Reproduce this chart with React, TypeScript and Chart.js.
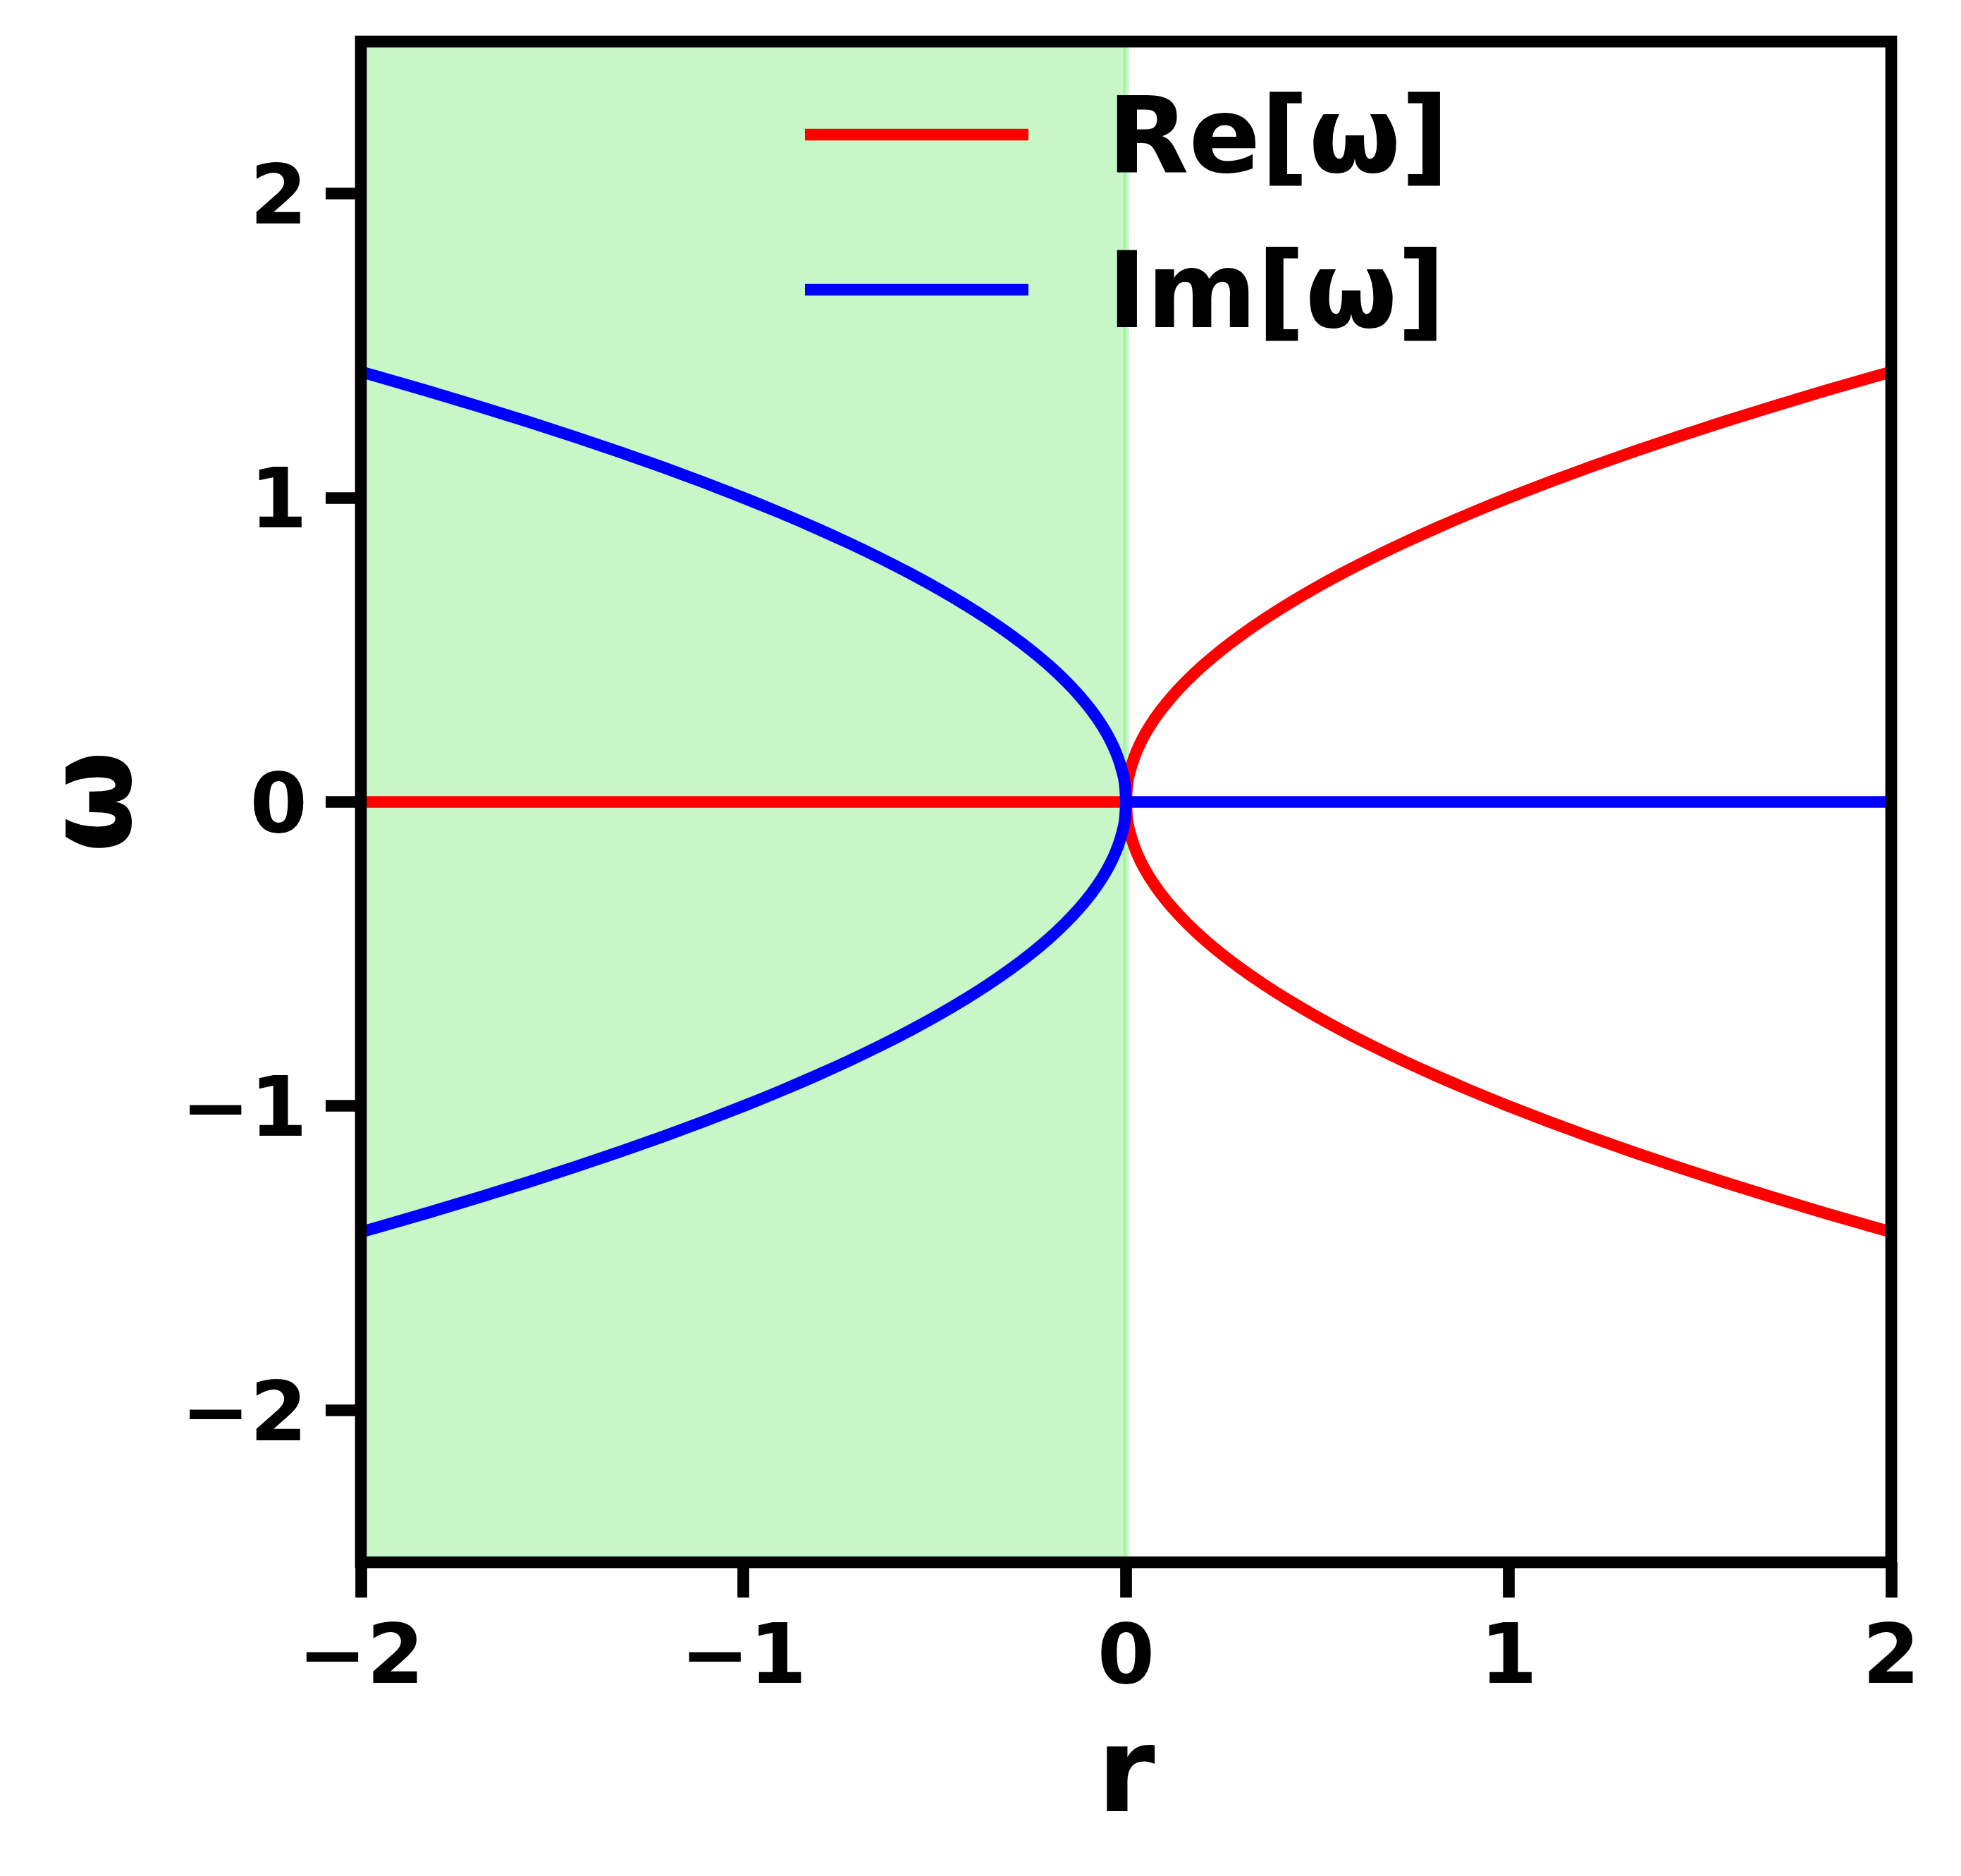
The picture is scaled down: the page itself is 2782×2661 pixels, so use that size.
import React, { useEffect, useRef } from 'react';
import { Chart, registerables } from 'chart.js';

Chart.register(...registerables);

const CANVAS_W = 2782;
const CANVAS_H = 2661;

// r values (right half, r >= 0) and the magnitude of omega
const rRight = [0, 0.0025, 0.01, 0.0225, 0.04, 0.0625, 0.09, 0.1225, 0.16, 0.2025, 0.25, 0.3025, 0.36, 0.4225, 0.49, 0.5625, 0.64, 0.7225, 0.81, 0.9025, 1.0, 1.1025, 1.21, 1.3225, 1.44, 1.5625, 1.69, 1.8225, 1.96, 2.0];
const omegaRight = [0, 0.05, 0.1, 0.15, 0.2, 0.25, 0.3, 0.35, 0.4, 0.45, 0.5, 0.55, 0.6, 0.65, 0.7, 0.75, 0.8, 0.85, 0.9, 0.95, 1.0, 1.05, 1.1, 1.15, 1.2, 1.25, 1.3, 1.35, 1.4, 1.414];
// r values (left half, r <= 0) and the magnitude of omega
const rLeft = [-2.0, -1.96, -1.8225, -1.69, -1.5625, -1.44, -1.3225, -1.21, -1.1025, -1.0, -0.9025, -0.81, -0.7225, -0.64, -0.5625, -0.49, -0.4225, -0.36, -0.3025, -0.25, -0.2025, -0.16, -0.1225, -0.09, -0.0625, -0.04, -0.0225, -0.01, -0.0025, 0];
const omegaLeft = [1.414, 1.4, 1.35, 1.3, 1.25, 1.2, 1.15, 1.1, 1.05, 1.0, 0.95, 0.9, 0.85, 0.8, 0.75, 0.7, 0.65, 0.6, 0.55, 0.5, 0.45, 0.4, 0.35, 0.3, 0.25, 0.2, 0.15, 0.1, 0.05, 0];
// flat (zero) parts
const reZeroR = [-2, 0];
const reZeroVal = [0, 0];
const imZeroR = [0, 2];
const imZeroVal = [0, 0];

const xRange = [-2, 2];
const yRange = [-2.5, 2.5];
const xTicks = [-2, -1, 0, 1, 2];
const yTicks = [-2, -1, 0, 1, 2];
const stableRange = [-2, 0];

const seriesLabels = ['Re[\u03c9]', 'Im[\u03c9]'];
const seriesColors = ['#ff0000', '#0000ff'];
const xTitle = 'r';
const yTitle = '\u03c9';

const FONT = 'DejaVu Sans';
const LW = 16.7;

const pts = (xs: number[], ys: number[], sign = 1) => xs.map((x, i) => ({ x, y: sign * ys[i] }));
const fmt = (v: number) => (v < 0 ? '\u2212' + Math.abs(v) : String(v));

const framePlugin = {
  id: 'frame',
  afterDatasetsDraw(chart: any) {
    const { ctx, chartArea } = chart;
    ctx.save();
    ctx.strokeStyle = '#000';
    ctx.lineWidth = LW;
    ctx.lineJoin = 'miter';
    ctx.strokeRect(chartArea.left, chartArea.top, chartArea.right - chartArea.left, chartArea.bottom - chartArea.top);
    ctx.restore();
  },
};

const legendPlugin = {
  id: 'mplLegend',
  afterDraw(chart: any) {
    const { ctx } = chart;
    ctx.save();
    const lineX0 = 1142;
    const lineX1 = 1459;
    const textX = 1571;
    const rows = [191, 411];
    seriesLabels.forEach((label, i) => {
      const y = rows[i];
      ctx.strokeStyle = seriesColors[i];
      ctx.lineWidth = LW;
      ctx.lineCap = 'butt';
      ctx.beginPath();
      ctx.moveTo(lineX0, y);
      ctx.lineTo(lineX1, y);
      ctx.stroke();
      ctx.fillStyle = '#000';
      ctx.font = `bold 150px "${FONT}"`;
      ctx.textBaseline = 'alphabetic';
      ctx.textAlign = 'left';
      ctx.fillText(label, textX, y + 53);
    });
    ctx.restore();
  },
};

export default function App() {
  const ref = useRef<HTMLCanvasElement | null>(null);

  useEffect(() => {
    if (!ref.current) return;
    const curve = (data: any, color: string, order: number, label: string) => ({
      label,
      data,
      borderColor: color,
      backgroundColor: color,
      borderWidth: LW,
      pointRadius: 0,
      fill: false,
      cubicInterpolationMode: 'monotone',
      borderJoinStyle: 'round',
      borderCapStyle: 'butt',
      order,
    });
    const chart = new Chart(ref.current, {
      type: 'line',
      data: {
        datasets: [
          curve(pts(rLeft, omegaLeft, 1), seriesColors[1], 1, seriesLabels[1]),
          curve(pts(rLeft, omegaLeft, -1), seriesColors[1], 1, seriesLabels[1]),
          curve(pts(imZeroR, imZeroVal), seriesColors[1], 1, seriesLabels[1]),
          curve(pts(rRight, omegaRight, 1), seriesColors[0], 2, seriesLabels[0]),
          curve(pts(rRight, omegaRight, -1), seriesColors[0], 2, seriesLabels[0]),
          curve(pts(reZeroR, reZeroVal), seriesColors[0], 2, seriesLabels[0]),
          {
            label: 'stable',
            data: [
              { x: stableRange[0], y: yRange[1] },
              { x: stableRange[1], y: yRange[1] },
              { x: stableRange[1], y: yRange[0] },
            ],
            borderColor: 'rgba(144,238,144,0.5)',
            backgroundColor: 'rgba(144,238,144,0.5)',
            borderWidth: 8.3,
            pointRadius: 0,
            fill: 'start',
            tension: 0,
            order: 3,
          },
        ] as any,
      },
      options: {
        responsive: false,
        animation: false,
        devicePixelRatio: 1,
        events: [],
        layout: { padding: { top: 59, right: 99, bottom: 0, left: 0 }, autoPadding: false } as any,
        plugins: { legend: { display: false }, tooltip: { enabled: false } },
        scales: {
          x: {
            type: 'linear',
            position: 'bottom',
            min: xRange[0],
            max: xRange[1],
            afterBuildTicks: (s: any) => {
              s.ticks = xTicks.map((v) => ({ value: v }));
            },
            afterFit: (s: any) => {
              s.height = 445;
              s.paddingLeft = 0;
              s.paddingRight = 0;
            },
            border: { display: false },
            grid: { display: true, drawOnChartArea: false, drawTicks: true, tickLength: 50, tickWidth: LW, tickColor: '#000' },
            ticks: {
              autoSkip: false,
              maxRotation: 0,
              padding: 20,
              color: '#000',
              font: { family: FONT, weight: 'bold', size: 117 },
              callback: (v: any) => fmt(Number(v)),
            },
            title: {
              display: true,
              text: xTitle,
              color: '#000',
              font: { family: FONT, weight: 'bold', size: 167 },
              padding: { top: 0, bottom: 35 },
            },
          },
          y: {
            type: 'linear',
            position: 'left',
            min: yRange[0],
            max: yRange[1],
            afterBuildTicks: (s: any) => {
              s.ticks = yTicks.map((v) => ({ value: v }));
            },
            afterFit: (s: any) => {
              s.width = 512;
              s.paddingTop = 0;
              s.paddingBottom = 0;
            },
            border: { display: false },
            grid: { display: true, drawOnChartArea: false, drawTicks: true, tickLength: 50, tickWidth: LW, tickColor: '#000' },
            ticks: {
              autoSkip: false,
              padding: 26,
              labelOffset: 12,
              color: '#000',
              font: { family: FONT, weight: 'bold', size: 117 },
              callback: (v: any) => fmt(Number(v)),
            },
            title: {
              display: true,
              text: yTitle,
              color: '#000',
              font: { family: FONT, weight: 'bold', size: 167 },
              padding: { top: 41, bottom: 0 },
            },
          },
        },
      } as any,
      plugins: [framePlugin, legendPlugin],
    });
    return () => chart.destroy();
  }, []);

  return (
    <div style={{ position: 'fixed', left: 0, top: 0, width: CANVAS_W, height: CANVAS_H, background: '#fff' }}>
      <canvas ref={ref} width={CANVAS_W} height={CANVAS_H} style={{ width: CANVAS_W, height: CANVAS_H, display: 'block' }} />
    </div>
  );
}
